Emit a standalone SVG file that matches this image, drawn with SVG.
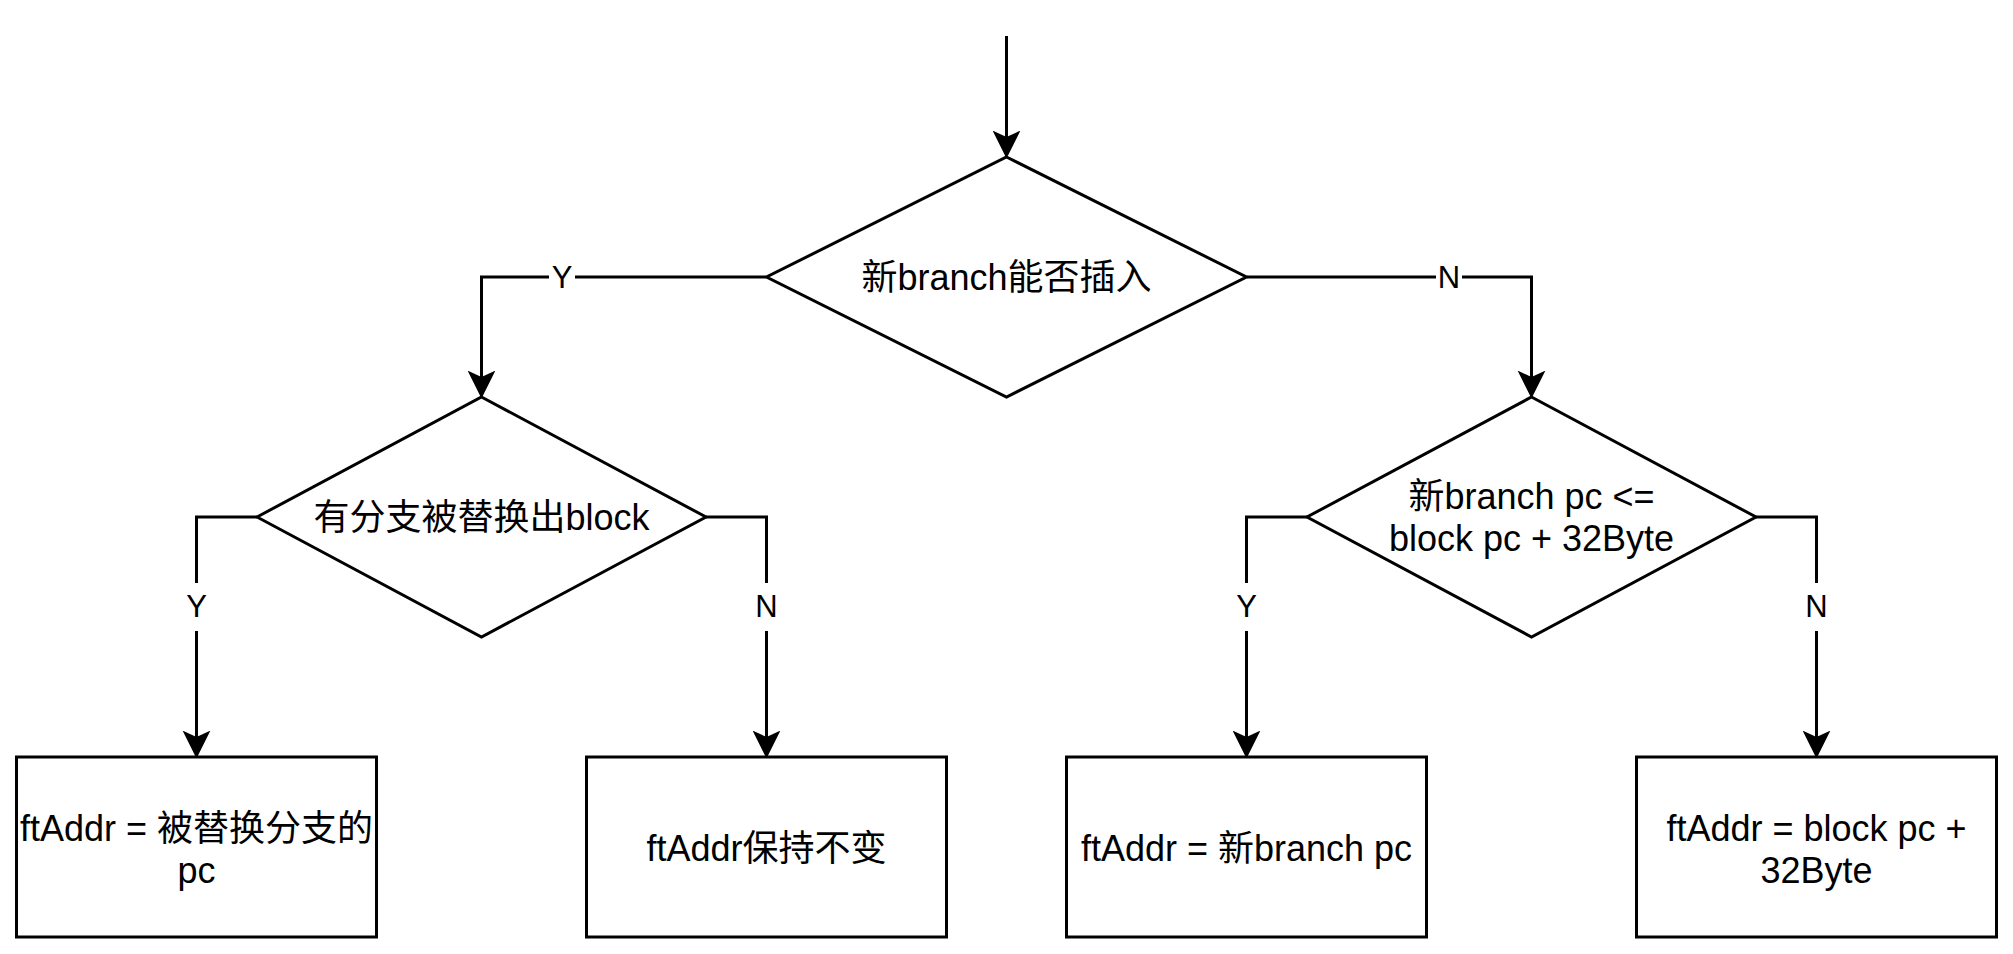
<svg xmlns="http://www.w3.org/2000/svg" width="2013" height="954" viewBox="0 0 2013 954">
<defs>
<style>
.shape{fill:#fff;stroke:#000;stroke-width:3}
.edge{fill:none;stroke:#000;stroke-width:3}
.t{font-family:"Liberation Sans","Noto Sans CJK SC",sans-serif;font-size:36px;fill:#000;text-anchor:middle;dominant-baseline:central}
.lbl{font-family:"Liberation Sans","Noto Sans CJK SC",sans-serif;font-size:31px;fill:#000;text-anchor:middle;dominant-baseline:central}
.lbg{fill:#fff}
</style>
<marker id="arr" markerUnits="userSpaceOnUse" markerWidth="30" markerHeight="30" viewBox="0 -14 28 28" refX="6" refY="0" orient="auto">
<path d="M0,-13 L26,0 L0,13 L6,0 Z" fill="#000"/>
</marker>
</defs>
<rect width="2013" height="954" fill="#fff"/>
<g id="connectors">
<path class="edge" d="M1006.5,36 V137" marker-end="url(#arr)"/>
<path class="edge" d="M766,277 H481.5 V377" marker-end="url(#arr)"/>
<path class="edge" d="M1247,277 H1531.5 V377" marker-end="url(#arr)"/>
<path class="edge" d="M257,517 H196.5 V737" marker-end="url(#arr)"/>
<path class="edge" d="M706,517 H766.5 V737" marker-end="url(#arr)"/>
<path class="edge" d="M1307,517 H1246.5 V737" marker-end="url(#arr)"/>
<path class="edge" d="M1756,517 H1816.5 V737" marker-end="url(#arr)"/>
<g id="edge-labels">
<rect class="lbg" x="549" y="262" width="26" height="30"/><text class="lbl" x="562" y="277">Y</text>
<rect class="lbg" x="1436" y="262" width="26" height="30"/><text class="lbl" x="1449" y="277">N</text>
<rect class="lbg" x="183.5" y="583" width="26" height="48"/><text class="lbl" x="196.5" y="606">Y</text>
<rect class="lbg" x="753.5" y="583" width="26" height="48"/><text class="lbl" x="766.5" y="606">N</text>
<rect class="lbg" x="1233.5" y="583" width="26" height="48"/><text class="lbl" x="1246.5" y="606">Y</text>
<rect class="lbg" x="1803.5" y="583" width="26" height="48"/><text class="lbl" x="1816.5" y="606">N</text>
</g>
</g>
<g id="d1">
<polygon class="shape" points="1006.5,157 1246.5,277 1006.5,397 766.5,277"/>
<text class="t" x="1006.5" y="277">新branch能否插入</text>
</g>
<g id="d2">
<polygon class="shape" points="481.5,397 706,517 481.5,637 257,517"/>
<text class="t" x="481.5" y="517">有分支被替换出block</text>
</g>
<g id="d3">
<polygon class="shape" points="1531.5,397 1756,517 1531.5,637 1307,517"/>
<text class="t" x="1531.5" y="496">新branch pc &lt;=</text>
<text class="t" x="1531.5" y="538">block pc + 32Byte</text>
</g>
<g id="b1">
<rect class="shape" x="16.5" y="757" width="360" height="180"/>
<text class="t" x="196.5" y="828">ftAddr = 被替换分支的</text>
<text class="t" x="196.5" y="870">pc</text>
</g>
<g id="b2">
<rect class="shape" x="586.5" y="757" width="360" height="180"/>
<text class="t" x="766.5" y="848">ftAddr保持不变</text>
</g>
<g id="b3">
<rect class="shape" x="1066.5" y="757" width="360" height="180"/>
<text class="t" x="1246.5" y="848">ftAddr = 新branch pc</text>
</g>
<g id="b4">
<rect class="shape" x="1636.5" y="757" width="360" height="180"/>
<text class="t" x="1816.5" y="828">ftAddr = block pc +</text>
<text class="t" x="1816.5" y="870">32Byte</text>
</g>
</svg>
